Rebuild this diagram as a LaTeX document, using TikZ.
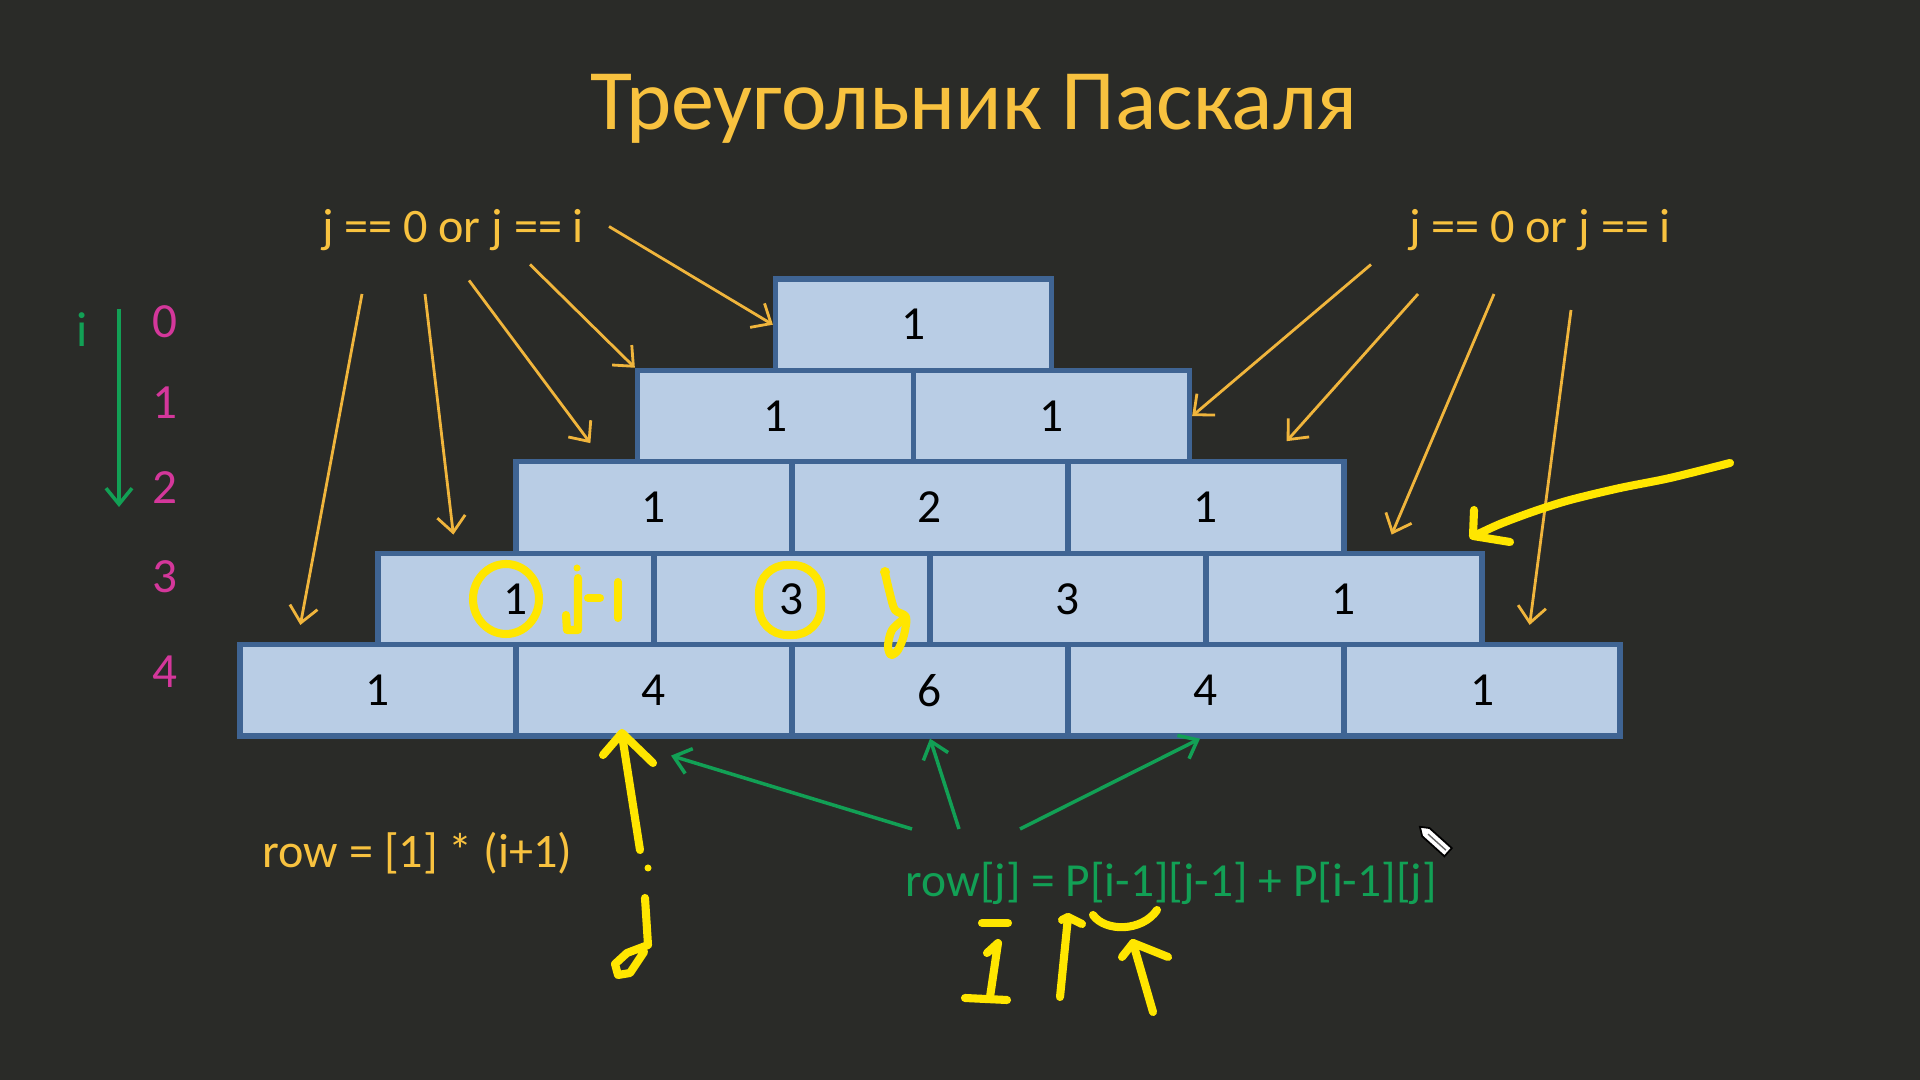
\documentclass[tikz,border=0pt]{standalone}
\usepackage{fontspec}
\setmainfont{Carlito}
\usetikzlibrary{arrows.meta,calc}
\definecolor{slide}{HTML}{2A2B28}
\definecolor{amber}{HTML}{F8C23F}
\definecolor{hintline}{HTML}{F0B53C}
\definecolor{cellfill}{HTML}{B9CDE5}
\definecolor{celledge}{HTML}{3F6493}
\definecolor{rowpink}{HTML}{D4379B}
\definecolor{codegreen}{HTML}{12A055}
\definecolor{marker}{HTML}{FFE600}
\tikzstyle{cellbox}=[rectangle,draw=celledge,fill=cellfill,line width=1.5pt,minimum width=2.76cm,minimum height=0.914cm,inner sep=0pt,font=\fontsize{13.5}{16}\selectfont]
\tikzstyle{notetext}=[amber,inner sep=0pt,font=\fontsize{13.7}{16}\selectfont]
\tikzstyle{hintarrow}=[draw,hintline,line width=0.8pt,-{Straight Barb[length=1.6mm,width=2.8mm]}]
\tikzstyle{sumarrow}=[draw,codegreen,line width=1pt,-{Straight Barb[length=1.6mm,width=2.6mm]}]
\tikzstyle{markerpen}=[draw,marker,line width=2.3pt,line cap=round,line join=round]

\begin{document}
\begin{tikzpicture}
    \fill[slide] (0,0) rectangle (19.2,10.8);
    \useasboundingbox (0,0) rectangle (19.2,10.8);

    % Title and the text labels
    \node[amber,inner sep=0pt,font=\fontsize{24.5}{28}\selectfont,anchor=base] (title) at (9.74,9.50) {Треугольник Паскаля};
    \node[notetext,anchor=base] (lcond) at (4.53,8.375) {j == 0 or j == i};
    \node[notetext,anchor=base] (rcond) at (15.40,8.375) {j == 0 or j == i};
    \node[notetext,anchor=base west] (init) at (2.62,2.12) {row = [1] * (i+1)};
    \node[notetext,codegreen,anchor=base west,font=\fontsize{13.5}{16}\selectfont] (rule) at (9.05,1.83) {row[j] = P[i-1][j-1] + P[i-1][j]};

    % First we draw the cells, row by row
    \foreach \pos/\name/\val in {{(9.135,7.553)/c00/1},
        {(7.755,6.639)/c10/1}, {(10.515,6.639)/c11/1},
        {(6.54,5.725)/c20/1}, {(9.30,5.725)/c21/2}, {(12.06,5.725)/c22/1},
        {(5.16,4.811)/c30/1}, {(7.92,4.811)/c31/3}, {(10.68,4.811)/c32/3}, {(13.44,4.811)/c33/1},
        {(3.78,3.897)/c40/1}, {(6.54,3.897)/c41/4}, {(9.30,3.897)/c42/6}, {(12.06,3.897)/c43/4}, {(14.82,3.897)/c44/1}}
        \node[cellbox] (\name) at \pos {\val};

    % Row index i
    \node[codegreen,inner sep=0pt,font=\fontsize{14}{16}\selectfont,anchor=base] (iname) at (0.82,7.33) {i};
    \foreach \y/\k in {7.58/0, 6.77/1, 5.92/2, 5.03/3, 4.08/4}
        \node[rowpink,inner sep=0pt,font=\fontsize{14}{16}\selectfont] (row\k) at (1.65,\y) {\k};
    \coordinate (itop) at (1.19,7.71);
    \coordinate (ibot) at (1.19,5.73);
    \path[sumarrow] (itop) -- (ibot);

    % Arrows from the edge conditions
    \coordinate (s1) at (6.09,8.535);
    \coordinate (s2) at (5.30,8.155);
    \coordinate (s3) at (4.69,7.996);
    \coordinate (s4) at (4.25,7.86);
    \coordinate (s5) at (3.62,7.86);
    \coordinate (t1) at (13.71,8.155);
    \coordinate (t2) at (14.18,7.86);
    \coordinate (t3) at (14.94,7.86);
    \coordinate (t4) at (15.71,7.70);
    \coordinate (e3) at ($(c20.north west)+(0.77,0.16)$);
    \coordinate (e4) at ($(c30.north west)+(0.78,0.16)$);
    \coordinate (e5) at ($(c40.north west)+(0.63,0.17)$);
    \coordinate (f2) at ($(c22.north east)+(-0.60,0.18)$);
    \coordinate (f3) at ($(c33.north east)+(-0.93,0.16)$);
    \coordinate (f4) at ($(c44.north east)+(-0.93,0.17)$);
    \foreach \source/\dest in {s1/c00.west, s2/c10.north west, s3/e3, s4/e4, s5/e5,
        t1/c11.east, t2/f2, t3/f3, t4/f4}
        \path[hintarrow] (\source) -- (\dest);

    % Arrows from the sum rule
    \coordinate (g1) at (9.12,2.51);
    \coordinate (g2) at (9.59,2.51);
    \coordinate (g3) at (10.20,2.51);
    \coordinate (h1) at ($(c41.south)+(0.17,-0.17)$);
    \coordinate (h3) at ($(c43.south)+(-0.06,0)$);
    \foreach \source/\dest in {g1/h1, g2/c42.south, g3/h3}
        \path[sumarrow] (\source) -- (\dest);

    % Hand written marks
    \draw[markerpen] plot[smooth] coordinates {(17.30,6.17) (16.70,6.02) (16.20,5.92) (15.70,5.80) (15.35,5.69) (15.00,5.56) (14.74,5.44)};
    \draw[markerpen] (14.74,5.70) -- (14.73,5.44) -- (15.10,5.38);
    \draw[markerpen] (5.06,4.81) ellipse [x radius=0.33,y radius=0.35];
    \draw[markerpen,rounded corners=8pt] (7.59,4.45) rectangle (8.21,5.15);
    \draw[markerpen] (5.78,5.02) -- (5.78,4.50) -- (5.67,4.50) -- (5.66,4.65);
    \fill[marker] (5.77,5.12) circle (0.035);
    \draw[markerpen] (5.88,4.82) -- (6.00,4.82);
    \draw[markerpen] (6.18,4.98) -- (6.18,4.62);
    \fill[marker] (8.85,5.08) circle (0.05);
    \draw[markerpen] plot[smooth] coordinates {(8.85,5.07) (8.90,4.86) (8.95,4.70) (9.06,4.63) (9.04,4.45) (8.98,4.30) (8.91,4.25) (8.88,4.34) (8.92,4.50) (9.06,4.63)};
    \draw[markerpen] (6.40,2.30) -- (6.22,3.45);
    \draw[markerpen] (6.03,3.25) -- (6.22,3.47) -- (6.53,3.17);
    \fill[marker] (6.48,2.12) circle (0.035);
    \draw[markerpen] (6.45,1.82) -- (6.48,1.35) -- (6.27,1.27) -- (6.15,1.16) -- (6.18,1.05) -- (6.30,1.07) -- (6.44,1.28);
    \draw[markerpen] (9.82,1.57) -- (10.08,1.57);
    \draw[markerpen] (9.87,1.27) -- (9.98,1.37) -- (9.90,0.83);
    \draw[markerpen] (9.65,0.82) -- (10.07,0.80);
    \draw[markerpen] (10.60,0.83) -- (10.68,1.63) -- (10.82,1.56);
    \draw[markerpen] (10.62,1.60) -- (10.68,1.63);
    \draw[markerpen] (10.93,1.65) .. controls (11.05,1.48) and (11.42,1.48) .. (11.57,1.70);
    \draw[markerpen] (11.53,0.68) -- (11.33,1.37);
    \draw[markerpen] (11.22,1.23) -- (11.33,1.37) -- (11.68,1.23);

    % Pen cursor
    \begin{scope}[shift={(14.34,2.405)},rotate=-42]
        \draw[black,fill=white,line width=0.5pt] (-0.19,0) -- (-0.11,0.055) -- (0.19,0.055) -- (0.19,-0.055) -- (-0.11,-0.055) -- cycle;
        \draw[black!60,line width=0.4pt] (-0.08,0) -- (0.16,0);
    \end{scope}
\end{tikzpicture}
\end{document}
